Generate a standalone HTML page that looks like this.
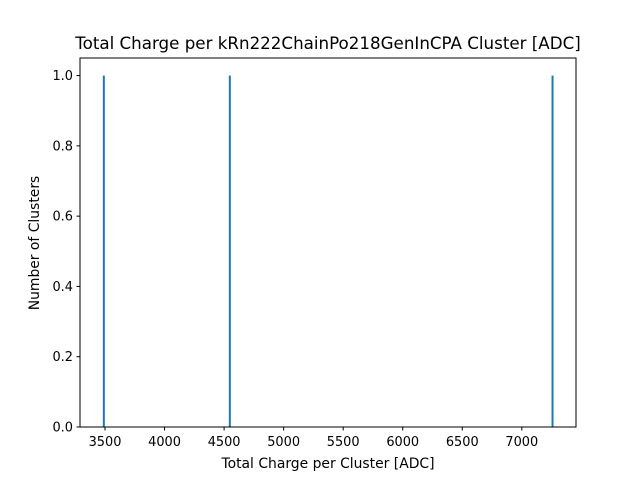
<!DOCTYPE html>
<html><head><meta charset="utf-8"><style>
body{margin:0;background:#fff;font-family:"DejaVu Sans","Liberation Sans",sans-serif}
</style></head><body>
<svg width="640" height="480" xmlns="http://www.w3.org/2000/svg" font-family="DejaVu Sans, Liberation Sans, sans-serif">
<rect width="640" height="480" fill="#fff"/>
<text x="328" y="49" font-size="16.7" text-anchor="middle">Total Charge per kRn222ChainPo218GenInCPA Cluster [ADC]</text>
<g id="plot"></g>
<rect x="80" y="58" width="496" height="369" fill="none" stroke="#000" stroke-width="1"/>
<text x="328" y="468" font-size="13.9" text-anchor="middle">Total Charge per Cluster [ADC]</text>
<text x="39" y="243" font-size="13.9" text-anchor="middle" transform="rotate(-90 39 243)">Number of Clusters</text>
</svg>
<script>
const binCenters = [3490, 4548, 7258];
const counts = [1, 1, 1];
const xTicks = [3500, 4000, 4500, 5000, 5500, 6000, 6500, 7000];
const yTicks = [0.0, 0.2, 0.4, 0.6, 0.8, 1.0];
const X0=80,X1=576,Y0=427,Y1=58,xmin=3290,xmax=7455,ymin=0,ymax=1.05;
const xs=v=>X0+(v-xmin)/(xmax-xmin)*(X1-X0);
const ys=v=>Y0-(v-ymin)/(ymax-ymin)*(Y0-Y1);
const g=document.getElementById('plot');const NS='http://www.w3.org/2000/svg';
function mk(t,a){const e=document.createElementNS(NS,t);for(const k in a)e.setAttribute(k,a[k]);g.appendChild(e);return e;}
binCenters.forEach((c,i)=>{
 const r=mk('rect',{x:xs(c)-1,y:ys(counts[i]),width:2,height:ys(0)-ys(counts[i]),fill:'#1f77b4'});
 
 
});
xTicks.forEach(t=>{
 const x=xs(t);
 const l=mk('line',{x1:x,x2:x,y1:427,y2:430.5,stroke:'#000'});
 
 
 const tx=mk('text',{x:x,y:446,'font-size':'12.9','text-anchor':'middle'});tx.textContent=t;
 
 
});
yTicks.forEach(t=>{
 const y=ys(t);
 const l=mk('line',{x1:76.5,x2:80,y1:y,y2:y,stroke:'#000'});
 
 
 const tx=mk('text',{x:73,y:y+4.5,'font-size':'12.9','text-anchor':'end'});tx.textContent=t.toFixed(1);
 
 
});
</script>
</body></html>
